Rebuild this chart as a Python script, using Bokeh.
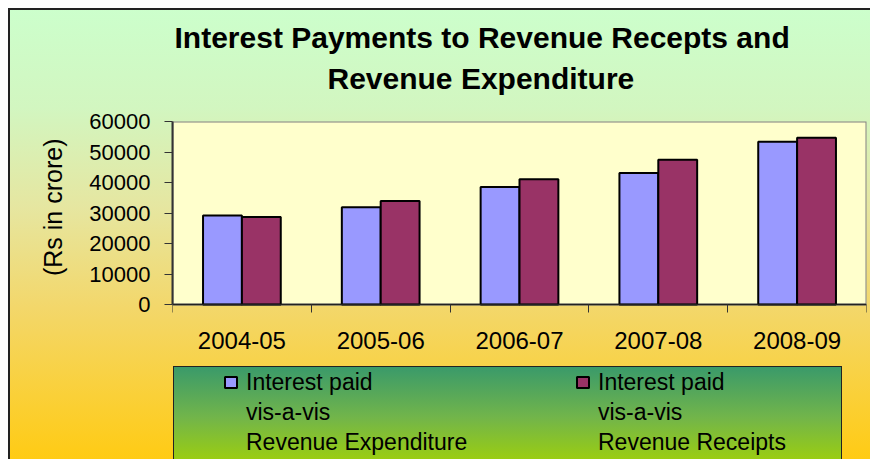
from bokeh.plotting import figure
from bokeh.models import (Range1d, FixedTicker, Title, Legend, LegendItem,
                          ColumnDataSource, LinearAxis, BoxAnnotation)
from bokeh.transform import dodge
from bokeh.embed import file_html
from bokeh.resources import INLINE

# ---- data -------------------------------------------------------------
years = ["2004-05", "2005-06", "2006-07", "2007-08", "2008-09"]
interest_vs_expenditure = [29200, 31900, 38500, 43100, 53400]
interest_vs_receipts = [28700, 33900, 41100, 47500, 54700]
y_ticks = [0, 10000, 20000, 30000, 40000, 50000, 60000]
y_label = "(Rs in crore)"
legend_lines_1 = ["Interest paid", "vis-a-vis", "Revenue Expenditure"]
legend_lines_2 = ["Interest paid", "vis-a-vis", "Revenue Receipts"]
title_lines = ["Interest Payments to Revenue Recepts and", "Revenue Expenditure"]

FONT = "Liberation Sans"

# ---- layout (pixels) ----------------------------------------------------
W, H = 870, 459
FRAME_LEFT, FRAME_RIGHT, FRAME_TOP = 172, 866, 121
ZERO_Y = 304                       # pixel row of the value 0
below_px = H - ZERO_Y
value_px = ZERO_Y - FRAME_TOP
y_start = -y_ticks[-1] * below_px / value_px

pos = [i + 0.5 for i in range(len(years))]
src = ColumnDataSource(dict(x=pos, exp=interest_vs_expenditure, rec=interest_vs_receipts))

p = figure(width=W, height=H, output_backend="svg", toolbar_location=None,
           x_range=Range1d(0, len(years)), y_range=Range1d(y_start, y_ticks[-1]),
           min_border_left=FRAME_LEFT, min_border_right=W - FRAME_RIGHT,
           min_border_top=FRAME_TOP, min_border_bottom=0,
           x_axis_type=None, y_axis_type=None)

bg = ("linear-gradient(#222,#222) 8px 8px / 2px 451px no-repeat, "
      "linear-gradient(#222,#222) 8px 8px / 862px 2px no-repeat, "
      "linear-gradient(#222,#222) 173px 366px / 669px 1px no-repeat, "
      "linear-gradient(#222,#222) 173px 366px / 1px 93px no-repeat, "
      "linear-gradient(#222,#222) 841px 366px / 1px 93px no-repeat, "
      "linear-gradient(#3a9a6a, #72b54a 55%, #9acd12) 174px 367px / 667px 92px no-repeat, "
      "linear-gradient(#ccffcc 0px, #d2f6c0 100px, #e6e6a0 200px, #f3d76a 300px, #ffcb14 451px) "
      "8px 8px / 862px 451px no-repeat, white")
p.styles = {"background": bg}
p.border_fill_alpha = 0
p.background_fill_alpha = 0
p.outline_line_color = None

# plot area (light yellow with grey border)
plot_area = BoxAnnotation(bottom=y_ticks[0], top=y_ticks[-1], level="image",
                          fill_color="#FFFFCC", fill_alpha=1,
                          line_color="#808080", line_width=2, line_alpha=1)
p.add_layout(plot_area)

# axes
yaxis = LinearAxis(ticker=FixedTicker(ticks=y_ticks), bounds=(y_ticks[0], y_ticks[-1]))
yaxis.major_label_text_font = FONT
yaxis.major_label_text_font_size = "22px"
yaxis.major_label_text_color = "black"
yaxis.major_label_standoff = 14
yaxis.major_tick_out = 8
yaxis.major_tick_in = 0
yaxis.minor_tick_out = 0
yaxis.minor_tick_in = 0
yaxis.axis_line_color = "#333333"
yaxis.axis_line_width = 2
yaxis.major_tick_line_color = "#333333"
p.add_layout(yaxis, "left")

# y-axis caption, centred on the value part of the axis
y_title = Title(text=y_label, align="right", offset=17, text_font=FONT,
                text_font_size="25px", text_font_style="normal", text_color="black",
                standoff=40)
p.add_layout(y_title, "left")

xaxis = LinearAxis(ticker=FixedTicker(ticks=pos, minor_ticks=list(range(len(years) + 1))),
                   fixed_location=y_ticks[0])
xaxis.major_label_overrides = {x: y for x, y in zip(pos, years)}
xaxis.major_label_text_font = FONT
xaxis.major_label_text_font_size = "24px"
xaxis.major_label_text_color = "black"
xaxis.major_label_standoff = 19
xaxis.major_tick_out = 0
xaxis.major_tick_in = 0
xaxis.minor_tick_out = 8
xaxis.minor_tick_in = 0
xaxis.minor_tick_line_color = "#333333"
xaxis.axis_line_color = "#222222"
xaxis.axis_line_width = 1.5
p.add_layout(xaxis, "below")

p.ygrid.ticker = FixedTicker(ticks=y_ticks[1:])
p.ygrid.grid_line_color = "black"
p.ygrid.grid_line_width = 1.3
p.xgrid.visible = False

r1 = p.vbar(x=dodge("x", -0.14, range=p.x_range), top="exp", bottom=y_ticks[0], width=0.28,
            source=src, fill_color="#9999FF", line_color="black", line_width=2)
r2 = p.vbar(x=dodge("x", 0.14, range=p.x_range), top="rec", bottom=y_ticks[0], width=0.28,
            source=src, fill_color="#993366", line_color="black", line_width=2)

items = []
for k, (a, b) in enumerate(zip(legend_lines_1, legend_lines_2)):
    items.append(LegendItem(label=a, renderers=[r1] if k == 0 else []))
    items.append(LegendItem(label=b, renderers=[r2] if k == 0 else []))

legend = Legend(items=items, orientation="horizontal", ncols=2,
                location=(51, 2), padding=0, margin=0, spacing=0,
                glyph_width=15, glyph_height=14, label_standoff=8,
                label_width=329, label_height=30,
                label_text_font=FONT, label_text_font_size="23px",
                label_text_color="black",
                background_fill_alpha=0, border_line_alpha=0)
p.add_layout(legend)

# titles (first added is closest to the frame); a blank spacer keeps the gap
spacer = Title(text=" ", text_font_size="1px", standoff=19)
t2 = Title(text=title_lines[1], align="left", offset=155, text_font=FONT,
           text_font_size="30px", text_font_style="bold", text_color="black", standoff=10)
t1 = Title(text=title_lines[0], align="left", offset=2, text_font=FONT,
           text_font_size="30px", text_font_style="bold", text_color="black", standoff=2)
p.add_layout(spacer, "above")
p.add_layout(t2, "above")
p.add_layout(t1, "above")

open("out.html", "w").write(file_html(p, INLINE))
